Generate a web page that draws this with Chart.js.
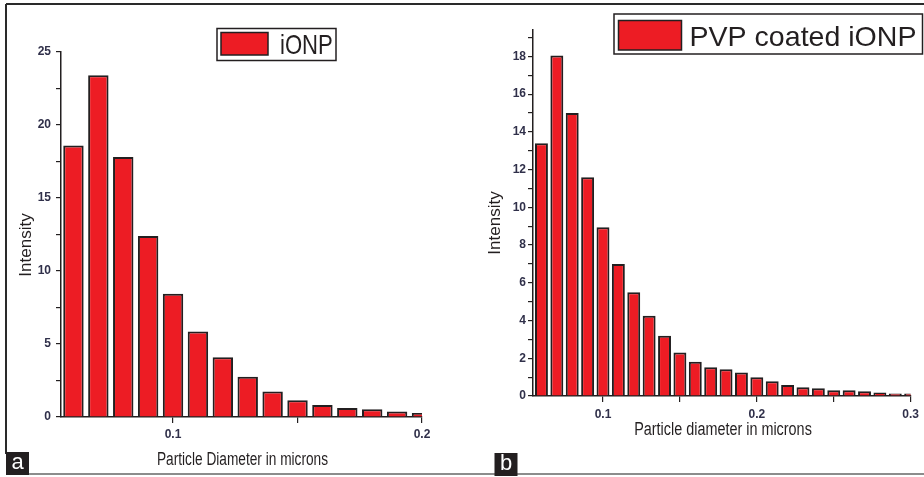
<!DOCTYPE html>
<html>
<head>
<meta charset="utf-8">
<title>Particle size distribution</title>
<script src="https://cdn.jsdelivr.net/npm/chart.js@4.4.1/dist/chart.umd.min.js"></script>
<style>
  html, body { margin: 0; padding: 0; background: #fff; }
  #figure { position: relative; width: 924px; height: 477px; overflow: hidden; background: #fff; }
  .panel { position: absolute; top: 0; width: 462px; height: 477px; }
  #panelA { left: 0; }
  #panelB { left: 462px; }
  .rule { position: absolute; }
</style>
</head>
<body>
<div id="figure">
  <div class="rule" style="left:6px;top:3px;width:918px;height:2px;background:#2a2a2a"></div>
  <div class="rule" style="left:5px;top:4px;width:2px;height:450px;background:#2a2a2a"></div>
  <div class="rule" style="left:6px;top:473px;width:918px;height:2px;background:#8c8c8c"></div>
  <div class="panel" id="panelA"><canvas id="chartA"></canvas></div>
  <div class="panel" id="panelB"><canvas id="chartB"></canvas></div>
</div>
<script>
// bare iron oxide nanoparticles (panel a)
const diameterA = [0.06, 0.07, 0.08, 0.09, 0.10, 0.11, 0.12, 0.13, 0.14, 0.15, 0.16, 0.17, 0.18, 0.19, 0.20];
const intensityA = [18.6, 23.4, 17.8, 12.4, 8.45, 5.85, 4.1, 2.75, 1.75, 1.15, 0.83, 0.62, 0.53, 0.37, 0.28];
const xTicksA = [0.1, 0.15, 0.2];
const xLabelsA = [0.1, 0.2];

// PVP coated particles (panel b)
const diameterB = [0.06, 0.07, 0.08, 0.09, 0.10, 0.11, 0.12, 0.13, 0.14, 0.15, 0.16, 0.17, 0.18,
                   0.19, 0.20, 0.21, 0.22, 0.23, 0.24, 0.25, 0.26, 0.27, 0.28, 0.29, 0.30];
const intensityB = [13.4, 18.05, 15.0, 11.6, 8.95, 7.0, 5.5, 4.25, 3.2, 2.3, 1.82, 1.52, 1.42,
                    1.24, 1.0, 0.78, 0.58, 0.46, 0.41, 0.3, 0.3, 0.25, 0.18, 0.13, 0.13];
const xTicksB = [0.1, 0.15, 0.2, 0.25, 0.3];
const xLabelsB = [0.1, 0.2, 0.3];

const BAR_RED = '#ed1c24';
const INK = '#231f20';
const TICK_TEXT = '#30304a';
const FONT = 'Liberation Sans, Arial, sans-serif';

// draws text, optionally squeezed horizontally and/or rotated
function drawText(ctx, text, x, y, size, sx, rotated, align, baseline) {
  ctx.save();
  ctx.translate(x, y);
  if (rotated) ctx.rotate(-Math.PI / 2);
  ctx.scale(sx, 1);
  ctx.font = size + 'px ' + FONT;
  ctx.fillStyle = INK;
  ctx.textAlign = align || 'center';
  ctx.textBaseline = baseline || 'middle';
  ctx.fillText(text, 0, 0);
  ctx.restore();
}

// legend box, axis titles and the panel letter
const panelDecor = {
  id: 'panelDecor',
  afterDraw(chart, args, o) {
    const ctx = chart.ctx;
    ctx.save();
    const lg = o.legend;
    ctx.fillStyle = '#fff';
    ctx.fillRect(lg.x, lg.y, lg.w, lg.h);
    ctx.lineWidth = 1.5;
    ctx.strokeStyle = INK;
    ctx.strokeRect(lg.x, lg.y, lg.w, lg.h);
    ctx.fillStyle = BAR_RED;
    ctx.fillRect(lg.sx, lg.sy, lg.sw, lg.sh);
    ctx.lineWidth = 1.5;
    ctx.strokeRect(lg.sx, lg.sy, lg.sw, lg.sh);
    drawText(ctx, lg.text, lg.tx, lg.ty, lg.size, lg.squeeze, false, 'left', 'alphabetic');

    drawText(ctx, o.yTitle.text, o.yTitle.x, o.yTitle.y, 17, 1, true);
    drawText(ctx, o.xTitle.text, o.xTitle.x, o.xTitle.y, 18, o.xTitle.squeeze, false);

    const lt = o.letter;
    ctx.fillStyle = INK;
    ctx.fillRect(lt.x, lt.y, 23, 23);
    ctx.font = '22px ' + FONT;
    ctx.fillStyle = '#fff';
    ctx.textAlign = 'center';
    ctx.textBaseline = 'middle';
    ctx.fillText(lt.text, lt.x + 11.5, lt.y + 11);
    ctx.restore();
  }
};

function buildChart(canvasId, diam, vals, cfg) {
  return new Chart(document.getElementById(canvasId), {
    type: 'bar',
    data: {
      datasets: [{
        data: diam.map((d, i) => ({ x: d, y: vals[i] })),
        backgroundColor: BAR_RED,
        borderColor: INK,
        borderWidth: 2,
        barPercentage: cfg.barPct,
        categoryPercentage: 1,
        clip: 0
      }]
    },
    options: {
      responsive: true,
      maintainAspectRatio: false,
      animation: false,
      layout: { padding: cfg.padding },
      plugins: {
        legend: { display: false },
        tooltip: { enabled: false },
        panelDecor: cfg.decor
      },
      scales: {
        x: {
          type: 'linear',
          min: cfg.xMin,
          max: cfg.xMax,
          offset: false,
          grid: { offset: false, drawOnChartArea: false, tickLength: 6, color: INK, lineWidth: 1.2 },
          border: { color: INK, width: 1.5 },
          afterBuildTicks: s => { s.ticks = cfg.xTicks.map(v => ({ value: v })); },
          afterFit: s => { s.height = cfg.xHeight; },
          ticks: {
            autoSkip: false,
            maxRotation: 0,
            padding: cfg.xTickPad,
            color: TICK_TEXT,
            font: { family: FONT, size: 12, weight: 'bold' },
            callback: v => cfg.xLabels.some(l => Math.abs(l - v) < 1e-9) ? v.toFixed(1) : ''
          }
        },
        y: {
          min: 0,
          max: cfg.yMax,
          grid: { drawOnChartArea: false, tickLength: 5, color: INK, lineWidth: 1.2 },
          border: { color: INK, width: 1.5 },
          afterFit: s => { s.width = cfg.yWidth; },
          ticks: {
            stepSize: cfg.yStep,
            includeBounds: false,
            padding: cfg.yTickPad,
            color: TICK_TEXT,
            font: { family: FONT, size: 12, weight: 'bold' },
            callback: v => (Math.abs(v % cfg.yLabelEvery) < 1e-9 ? String(v) : '')
          }
        }
      }
    },
    plugins: [panelDecor]
  });
}

buildChart('chartA', diameterA, intensityA, {
  barPct: 0.82,
  padding: { left: 6, right: 40, top: 52, bottom: 0 },
  xMin: 0.055, xMax: 0.2, xTicks: xTicksA, xLabels: xLabelsA, xHeight: 60, xTickPad: 4,
  yMax: 25, yStep: 2.5, yLabelEvery: 5, yWidth: 55, yTickPad: 5,
  decor: {
    legend: { x: 217, y: 28.5, w: 119, h: 32, sx: 221, sy: 32.5, sw: 47, sh: 22.5,
              text: 'iONP', tx: 280, ty: 53.5, size: 28, squeeze: 0.79 },
    yTitle: { text: 'Intensity', x: 26, y: 245 },
    xTitle: { text: 'Particle Diameter in microns', x: 242.5, y: 460, squeeze: 0.76 },
    letter: { text: 'a', x: 6, y: 452 }
  }
});

buildChart('chartB', diameterB, intensityB, {
  barPct: 0.84,
  padding: { left: 0, right: 11, top: 30, bottom: 0 },
  xMin: 0.0545, xMax: 0.3, xTicks: xTicksB, xLabels: xLabelsB, xHeight: 81, xTickPad: 5,
  yMax: 19.4, yStep: 1, yLabelEvery: 2, yWidth: 71, yTickPad: 2,
  decor: {
    legend: { x: 152, y: 14, w: 308.5, h: 40, sx: 156.5, sy: 20.5, sw: 63, sh: 29.5,
              text: 'PVP coated iONP', tx: 227.5, ty: 45.5, size: 28, squeeze: 1.02 },
    yTitle: { text: 'Intensity', x: 33, y: 223 },
    xTitle: { text: 'Particle diameter in microns', x: 261, y: 430, squeeze: 0.8 },
    letter: { text: 'b', x: 32.5, y: 453 }
  }
});
</script>
</body>
</html>
